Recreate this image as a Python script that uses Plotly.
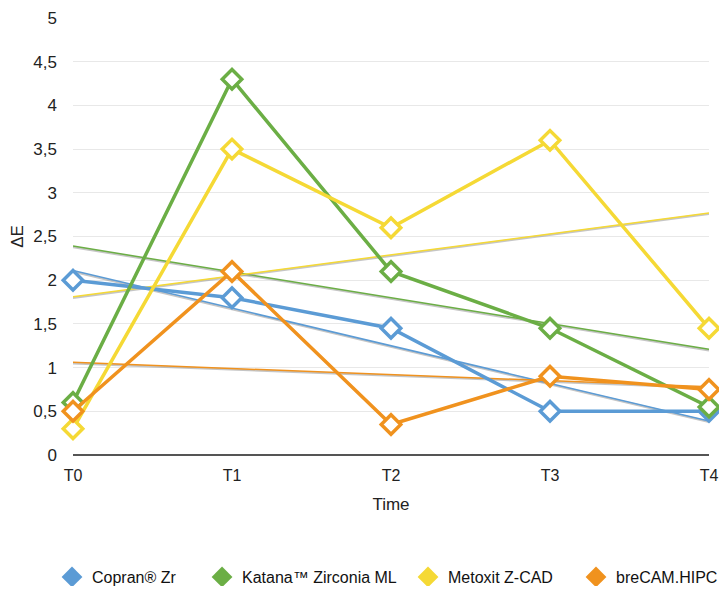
import plotly.graph_objects as go
import numpy as np

categories = ["T0", "T1", "T2", "T3", "T4"]
series_names = ["Copran® Zr", "Katana™ Zirconia ML", "Metoxit Z-CAD", "breCAM.HIPC"]
copran = [2.0, 1.8, 1.45, 0.5, 0.5]
katana = [0.6, 4.3, 2.1, 1.45, 0.55]
metoxit = [0.3, 3.5, 2.6, 3.6, 1.45]
brecam = [0.5, 2.1, 0.35, 0.9, 0.75]
colors = ["#5B9BD5", "#6BAE45", "#F5D935", "#F0921E"]
y_tickvals = [0, 0.5, 1, 1.5, 2, 2.5, 3, 3.5, 4, 4.5, 5]
y_ticktext = ["0", "0,5", "1", "1,5", "2", "2,5", "3", "3,5", "4", "4,5", "5"]

FONT = "Liberation Sans, Arial, Helvetica, sans-serif"
xs = np.arange(len(categories))
fig = go.Figure()

all_series = [copran, katana, metoxit, brecam]
# linear trendlines, drawn first with a faint shadow
for vals, col in zip(all_series, colors):
    m, b = np.polyfit(xs, vals, 1)
    ty = m * xs + b
    fig.add_trace(go.Scatter(x=xs, y=ty - 0.012, mode="lines",
                             line=dict(color="rgba(150,150,150,0.55)", width=2.2),
                             showlegend=False, hoverinfo="skip", cliponaxis=False))
    fig.add_trace(go.Scatter(x=xs, y=ty, mode="lines",
                             line=dict(color=col, width=1.5),
                             showlegend=False, hoverinfo="skip", cliponaxis=False))

legend_names = ["legend", "legend2", "legend3", "legend4"]
for name, vals, col, lg in zip(series_names, all_series, colors, legend_names):
    fig.add_trace(go.Scatter(x=xs, y=vals, mode="lines+markers", name=name,
                             line=dict(color=col, width=3.5),
                             marker=dict(symbol="diamond", size=15, color="white",
                                         line=dict(color=col, width=3.5)),
                             showlegend=False, cliponaxis=False))
    fig.add_trace(go.Scatter(x=[None], y=[None], mode="markers", name=name,
                             marker=dict(symbol="diamond", size=18, color=col),
                             showlegend=True, legend=lg))

legend_x = [0.0619, 0.2729, 0.5626, 0.7989]
legend_common = dict(orientation="h", xref="container", yref="container",
                     y=0.0156, yanchor="middle", xanchor="left",
                     font=dict(size=16, color="#111111"), bgcolor="rgba(0,0,0,0)")

fig.update_layout(
    width=711, height=578,
    margin=dict(l=65, r=10, t=10, b=131, autoexpand=False),
    plot_bgcolor="white", paper_bgcolor="white",
    font=dict(family=FONT, color="#222222", size=16),
    xaxis=dict(range=[0, 4], tickvals=list(xs), ticktext=categories,
               showgrid=False, zeroline=False, showline=False, automargin=False,
               ticks="", tickfont=dict(size=16), ticklabelstandoff=9,
               title=dict(text="Time", font=dict(size=17))),
    yaxis=dict(range=[0, 5], tickvals=y_tickvals, ticktext=y_ticktext,
               showgrid=True, gridcolor="#e8e8e8", gridwidth=1,
               zeroline=True, zerolinecolor="#555555", zerolinewidth=1.5,
               showline=False, ticks="", tickfont=dict(size=17), automargin=False,
               ticklabelstandoff=15,
               title=dict(text="ΔE", font=dict(size=17))),
    legend=dict(x=legend_x[0], **legend_common),
    legend2=dict(x=legend_x[1], **legend_common),
    legend3=dict(x=legend_x[2], **legend_common),
    legend4=dict(x=legend_x[3], **legend_common),
)

fig.write_html("out.html")
